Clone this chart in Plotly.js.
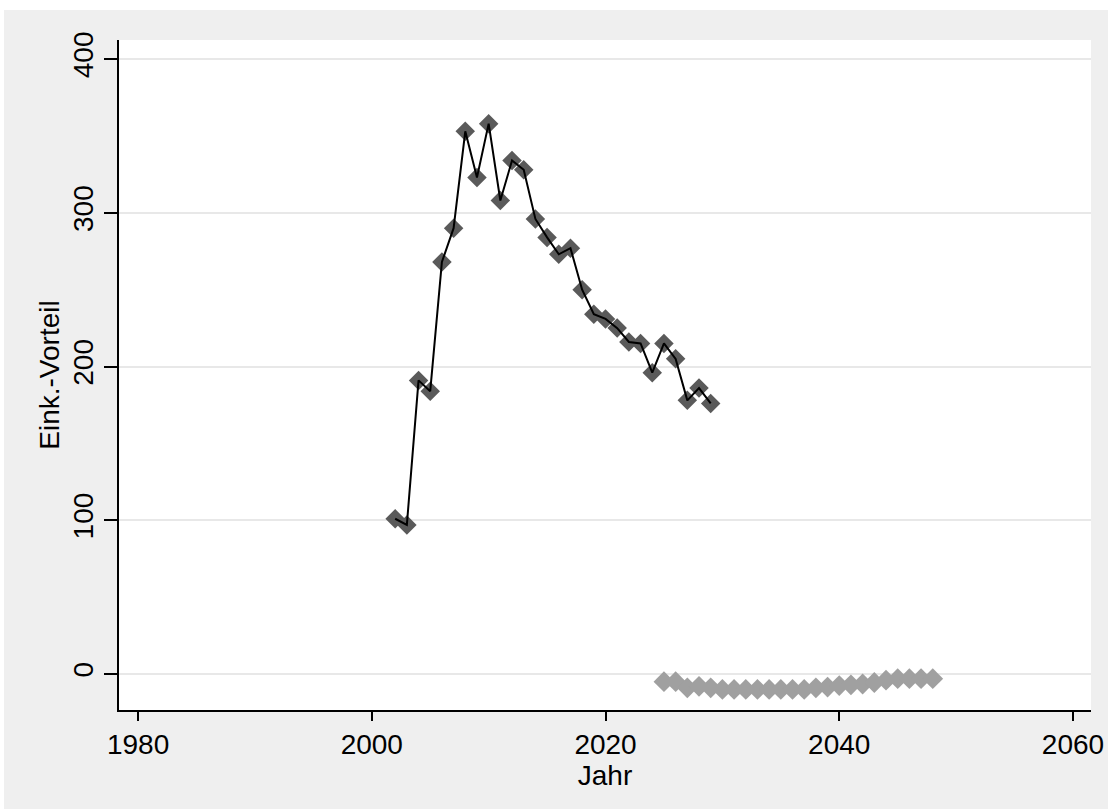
<!DOCTYPE html>
<html>
<head>
<meta charset="utf-8">
<script src="https://cdn.plot.ly/plotly-3.0.1.min.js"></script>
<style>
  html, body { margin: 0; padding: 0; background: #ffffff; }
  #chart { position: absolute; left: 4px; top: 10px; width: 1104px; height: 799px; }
</style>
</head>
<body>
<div id="chart"></div>
<script>
// Series 1: Eink.-Vorteil (dark diamonds with black connecting line)
const years1 = [2002, 2003, 2004, 2005, 2006, 2007, 2008, 2009, 2010, 2011, 2012, 2013, 2014, 2015,
                2016, 2017, 2018, 2019, 2020, 2021, 2022, 2023, 2024, 2025, 2026, 2027, 2028, 2029];
const values1 = [101, 97, 191, 184, 268, 290, 353, 323, 358, 308, 334, 328, 296, 284,
                 273, 277, 250, 234, 231, 225, 216, 215, 196, 215, 205, 178, 186, 176];

// Series 2: light grey diamonds near zero
const years2 = [2025, 2026, 2027, 2028, 2029, 2030, 2031, 2032, 2033, 2034, 2035, 2036,
                2037, 2038, 2039, 2040, 2041, 2042, 2043, 2044, 2045, 2046, 2047, 2048];
const values2 = [-5, -5, -9, -8, -9, -10, -10, -10, -10, -10, -10, -10,
                 -10, -9, -8.5, -7.5, -7, -6.5, -5.5, -4, -3, -3, -3, -3];

const xTicks = [1980, 2000, 2020, 2040, 2060];
const yTicks = [0, 100, 200, 300, 400];

const FONT = 'Liberation Sans, Arial, sans-serif';

const traces = [
  {
    x: years2, y: values2, type: 'scatter', mode: 'markers',
    marker: { symbol: 'diamond', size: 16, color: '#a0a0a0', line: { width: 0 } },
    hoverinfo: 'x+y', showlegend: false
  },
  {
    x: years1, y: values1, type: 'scatter', mode: 'markers',
    marker: { symbol: 'diamond', size: 15, color: '#5a5a5a', line: { width: 0 } },
    hoverinfo: 'x+y', showlegend: false
  },
  {
    x: years1, y: values1, type: 'scatter', mode: 'lines',
    line: { color: '#000000', width: 2 },
    hoverinfo: 'skip', showlegend: false
  }
];

const layout = {
  width: 1104, height: 799,
  paper_bgcolor: '#efefef',
  plot_bgcolor: '#ffffff',
  margin: { l: 115, r: 17, t: 30, b: 99 },
  font: { family: FONT, color: '#000000', size: 28 },
  showlegend: false,
  xaxis: {
    range: [1978.37, 2061.54],
    tickmode: 'array', tickvals: xTicks, ticktext: xTicks.map(String),
    ticks: 'outside', ticklen: 9, tickwidth: 1.5, tickcolor: '#000000',
    showline: true, linecolor: '#000000', linewidth: 1.5,
    showgrid: false, zeroline: false,
    tickfont: { family: FONT, size: 28, color: '#000000' },
    title: { text: 'Jahr', font: { family: FONT, size: 28, color: '#000000' }, standoff: 0 },
    automargin: false
  },
  yaxis: {
    range: [-23.4, 412.4],
    tickmode: 'array', tickvals: yTicks, ticktext: yTicks.map(String),
    ticks: 'outside', ticklen: 13, tickwidth: 1.5, tickcolor: '#000000',
    tickangle: -90,
    showline: true, linecolor: '#000000', linewidth: 1.5,
    showgrid: true, gridcolor: '#e8e8e8', gridwidth: 2,
    zeroline: false,
    tickfont: { family: FONT, size: 28, color: '#000000' },
    title: { text: 'Eink.-Vorteil', font: { family: FONT, size: 28, color: '#000000' }, standoff: 0 },
    automargin: false
  }
};

Plotly.newPlot('chart', traces, layout, { displayModeBar: false, responsive: false });
</script>
</body>
</html>
